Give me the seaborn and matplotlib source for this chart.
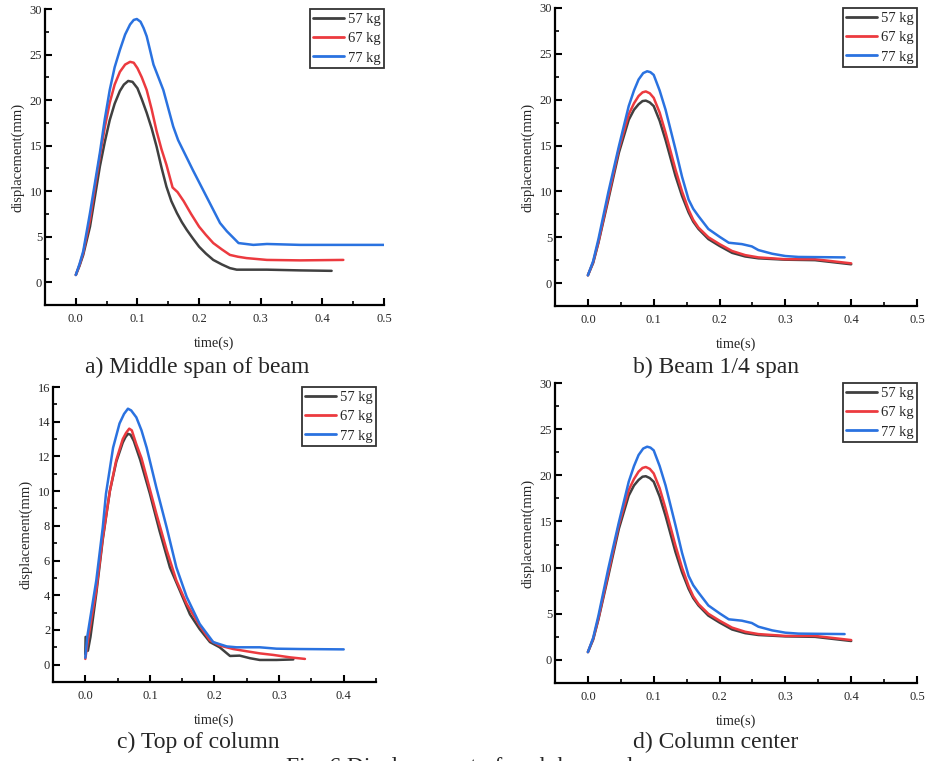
import numpy as np
import pandas as pd
import matplotlib
matplotlib.use("Agg")
import matplotlib.pyplot as plt
from matplotlib.ticker import MultipleLocator, AutoMinorLocator, FormatStrFormatter
import seaborn as sns

# ---------------- data ----------------
labels = ["57 kg", "67 kg", "77 kg"]
colors = ["#404040", "#ec3a3f", "#2a72e0"]

# a) Middle span of beam
a_t57 = [0, 0.006, 0.012, 0.023, 0.031, 0.039, 0.047, 0.055, 0.063, 0.0715, 0.078, 0.085, 0.092, 0.1, 0.107, 0.115, 0.123, 0.131, 0.139, 0.147, 0.155, 0.164, 0.172, 0.18, 0.19, 0.2, 0.211, 0.223, 0.237, 0.25, 0.261, 0.31, 0.364, 0.415]
a_d57 = [0.8, 1.8, 3.0, 6.1, 9.4, 12.7, 15.4, 17.8, 19.6, 21.0, 21.7, 22.1, 22.0, 21.3, 20.1, 18.6, 16.9, 14.9, 12.6, 10.5, 8.9, 7.6, 6.6, 5.75, 4.8, 3.9, 3.15, 2.45, 1.95, 1.55, 1.38, 1.38, 1.3, 1.25]
a_t67 = [0, 0.006, 0.012, 0.023, 0.031, 0.039, 0.047, 0.055, 0.063, 0.0715, 0.08, 0.088, 0.094, 0.1, 0.107, 0.115, 0.123, 0.131, 0.139, 0.147, 0.157, 0.165, 0.175, 0.187, 0.2, 0.211, 0.223, 0.237, 0.25, 0.263, 0.277, 0.31, 0.364, 0.434]
a_d67 = [0.8, 1.9, 3.2, 6.85, 10.4, 13.8, 17.0, 19.7, 21.7, 23.1, 23.9, 24.2, 24.1, 23.5, 22.5, 21.1, 19.0, 16.6, 14.6, 12.9, 10.4, 9.9, 8.9, 7.5, 6.1, 5.2, 4.3, 3.6, 3.0, 2.8, 2.65, 2.45, 2.4, 2.45]
a_t77 = [0, 0.006, 0.012, 0.023, 0.031, 0.039, 0.047, 0.055, 0.063, 0.0715, 0.08, 0.088, 0.094, 0.099, 0.105, 0.11, 0.115, 0.12, 0.126, 0.134, 0.142, 0.15, 0.158, 0.166, 0.174, 0.19, 0.212, 0.234, 0.245, 0.256, 0.264, 0.288, 0.31, 0.364, 0.5]
a_d77 = [0.8, 2.0, 3.4, 7.6, 10.9, 14.2, 17.9, 21.1, 23.6, 25.5, 27.2, 28.3, 28.8, 28.9, 28.6, 27.9, 27.0, 25.6, 23.9, 22.5, 21.1, 19.1, 17.1, 15.6, 14.5, 12.3, 9.4, 6.5, 5.6, 4.85, 4.3, 4.1, 4.2, 4.1, 4.1]

# b) Beam 1/4 span  and  d) Column center
b_t57 = [0, 0.008, 0.016, 0.031, 0.047, 0.062, 0.07, 0.077, 0.083, 0.088, 0.094, 0.1, 0.109, 0.118, 0.133, 0.143, 0.153, 0.16, 0.168, 0.183, 0.2, 0.219, 0.239, 0.259, 0.3, 0.345, 0.4]
b_d57 = [0.85, 2.2, 4.4, 9.1, 14.2, 17.8, 18.9, 19.5, 19.85, 19.9, 19.7, 19.3, 17.7, 15.6, 11.7, 9.5, 7.7, 6.7, 5.9, 4.8, 4.05, 3.3, 2.9, 2.7, 2.55, 2.5, 2.05]
b_t67 = [0, 0.008, 0.016, 0.031, 0.047, 0.062, 0.07, 0.077, 0.083, 0.088, 0.094, 0.1, 0.109, 0.118, 0.133, 0.143, 0.153, 0.16, 0.168, 0.183, 0.2, 0.219, 0.239, 0.259, 0.3, 0.345, 0.4]
b_d67 = [0.85, 2.3, 4.5, 9.4, 14.6, 18.4, 19.6, 20.4, 20.8, 20.9, 20.7, 20.2, 18.6, 16.4, 12.4, 10.0, 8.0, 6.9, 6.05, 5.0, 4.25, 3.5, 3.05, 2.8, 2.6, 2.6, 2.15]
b_t77 = [0, 0.008, 0.016, 0.031, 0.047, 0.062, 0.07, 0.077, 0.084, 0.09, 0.095, 0.1, 0.109, 0.118, 0.133, 0.143, 0.153, 0.16, 0.168, 0.183, 0.2, 0.214, 0.234, 0.249, 0.259, 0.28, 0.3, 0.32, 0.39]
b_d77 = [0.85, 2.4, 4.8, 9.9, 14.9, 19.3, 21.0, 22.2, 22.9, 23.1, 23.0, 22.7, 21.0, 18.9, 14.6, 11.6, 9.1, 8.1, 7.3, 5.9, 5.05, 4.4, 4.25, 4.0, 3.6, 3.2, 2.95, 2.85, 2.8]

# c) Top of column
c_t57 = [0, 0.0005, 0.004, 0.008, 0.017, 0.027, 0.038, 0.048, 0.058, 0.062, 0.066, 0.07, 0.075, 0.085, 0.1, 0.115, 0.131, 0.146, 0.162, 0.177, 0.193, 0.208, 0.224, 0.239, 0.255, 0.27, 0.296, 0.322]
c_d57 = [0.6, 1.6, 0.8, 1.6, 4.1, 7.2, 10.0, 11.7, 12.8, 13.1, 13.3, 13.25, 12.9, 11.8, 9.85, 7.7, 5.6, 4.3, 2.9, 2.05, 1.3, 1.0, 0.5, 0.52, 0.37, 0.27, 0.27, 0.3]
c_t67 = [0, 0.004, 0.017, 0.027, 0.038, 0.048, 0.058, 0.063, 0.068, 0.072, 0.079, 0.087, 0.095, 0.11, 0.126, 0.141, 0.157, 0.177, 0.193, 0.208, 0.229, 0.25, 0.27, 0.291, 0.317, 0.34]
c_d67 = [0.33, 1.4, 4.3, 7.3, 10.0, 11.8, 13.0, 13.35, 13.6, 13.5, 12.7, 11.9, 10.8, 8.7, 6.6, 4.85, 3.5, 2.25, 1.4, 1.1, 0.9, 0.77, 0.65, 0.56, 0.42, 0.33]
c_t77 = [0, 0.003, 0.017, 0.027, 0.032, 0.043, 0.053, 0.06, 0.066, 0.071, 0.079, 0.087, 0.095, 0.11, 0.126, 0.141, 0.157, 0.177, 0.198, 0.219, 0.234, 0.27, 0.296, 0.332, 0.4]
c_d77 = [0.4, 1.6, 4.85, 7.9, 9.85, 12.5, 13.9, 14.45, 14.75, 14.65, 14.25, 13.5, 12.5, 10.2, 7.9, 5.6, 3.9, 2.35, 1.3, 1.05, 1.0, 1.0, 0.92, 0.9, 0.88]

captions = ["a) Middle span of beam", "b) Beam 1/4 span", "c) Top of column", "d) Column center"]
fig_caption = "Fig. 6 Displacement of each key node"


def make_df(ts, ds):
    frames = []
    for lab, t, d in zip(labels, ts, ds):
        frames.append(pd.DataFrame({"time": t, "disp": d, "mass": lab}))
    return pd.concat(frames, ignore_index=True)


panels = [
    make_df([a_t57, a_t67, a_t77], [a_d57, a_d67, a_d77]),
    make_df([b_t57, b_t67, b_t77], [b_d57, b_d67, b_d77]),
    make_df([c_t57, c_t67, c_t77], [c_d57, c_d67, c_d77]),
    make_df([b_t57, b_t67, b_t77], [b_d57, b_d67, b_d77]),
]

# ---------------- style ----------------
sns.set_style("ticks")
plt.rcParams["font.family"] = ["Liberation Serif", "DejaVu Serif"]
plt.rcParams["xtick.direction"] = "in"
plt.rcParams["ytick.direction"] = "in"

W, H = 929, 761
fig = plt.figure(figsize=(W / 100, H / 100), dpi=100)


def rect(l, r, t, b):
    return [l / W, 1 - b / H, (r - l) / W, (b - t) / H]


rects = [rect(45, 384, 9, 305), rect(555, 917, 8, 306),
         rect(53, 376, 387, 682), rect(555, 917, 383, 683)]
xlims = [(-0.05, 0.5), (-0.05, 0.5), (-0.05, 0.45), (-0.05, 0.5)]
ylims = [(-2.5, 30), (-2.5, 30), (-1, 16), (-2.5, 30)]
ymaj = [5, 5, 2, 5]
cap_pos = [(197, 367), (716, 367), (198, 742), (716, 742)]
palette = dict(zip(labels, colors))

for i in range(4):
    ax = fig.add_axes(rects[i])
    sns.lineplot(data=panels[i], x="time", y="disp", hue="mass", palette=palette,
                 estimator=None, sort=False, linewidth=1.8, ax=ax)
    ax.set_xlim(*xlims[i])
    ax.set_ylim(*ylims[i])
    ax.xaxis.set_major_locator(MultipleLocator(0.1))
    ax.xaxis.set_minor_locator(AutoMinorLocator(2))
    ax.yaxis.set_major_locator(MultipleLocator(ymaj[i]))
    ax.yaxis.set_minor_locator(AutoMinorLocator(2))
    ax.xaxis.set_major_formatter(FormatStrFormatter("%.1f"))
    for s in ["top", "right"]:
        ax.spines[s].set_visible(False)
    for s in ["left", "bottom"]:
        ax.spines[s].set_linewidth(1.6)
        ax.spines[s].set_color("black")
    ax.tick_params(which="major", length=5, width=1.5, labelsize=9, color="black")
    ax.tick_params(which="minor", length=3, width=1.2, color="black")
    ax.tick_params(axis="x", which="major", pad=6)
    ax.tick_params(axis="y", which="major", pad=2)
    ax.set_xlabel("time(s)", fontsize=10.3, labelpad=8)
    ax.set_ylabel("displacement(mm)", fontsize=10.5, labelpad=4)
    leg = ax.legend(loc="upper right", bbox_to_anchor=(1.0, 1.0), borderaxespad=0,
                    fontsize=10.5, frameon=True, fancybox=False, title=None,
                    handlelength=2.1, handletextpad=0.25, labelspacing=0.42,
                    borderpad=0.25)
    leg.get_frame().set_edgecolor("black")
    leg.get_frame().set_linewidth(1.3)
    for ln in leg.get_lines():
        ln.set_linewidth(2.0)
    cx, cy = cap_pos[i]
    fig.text(cx / W, 1 - cy / H, captions[i], ha="center", va="center", fontsize=17)

fig.text(465 / W, 1 - 757 / H, fig_caption, ha="center", va="top", fontsize=17)

fig.savefig("out.png", dpi=100)
